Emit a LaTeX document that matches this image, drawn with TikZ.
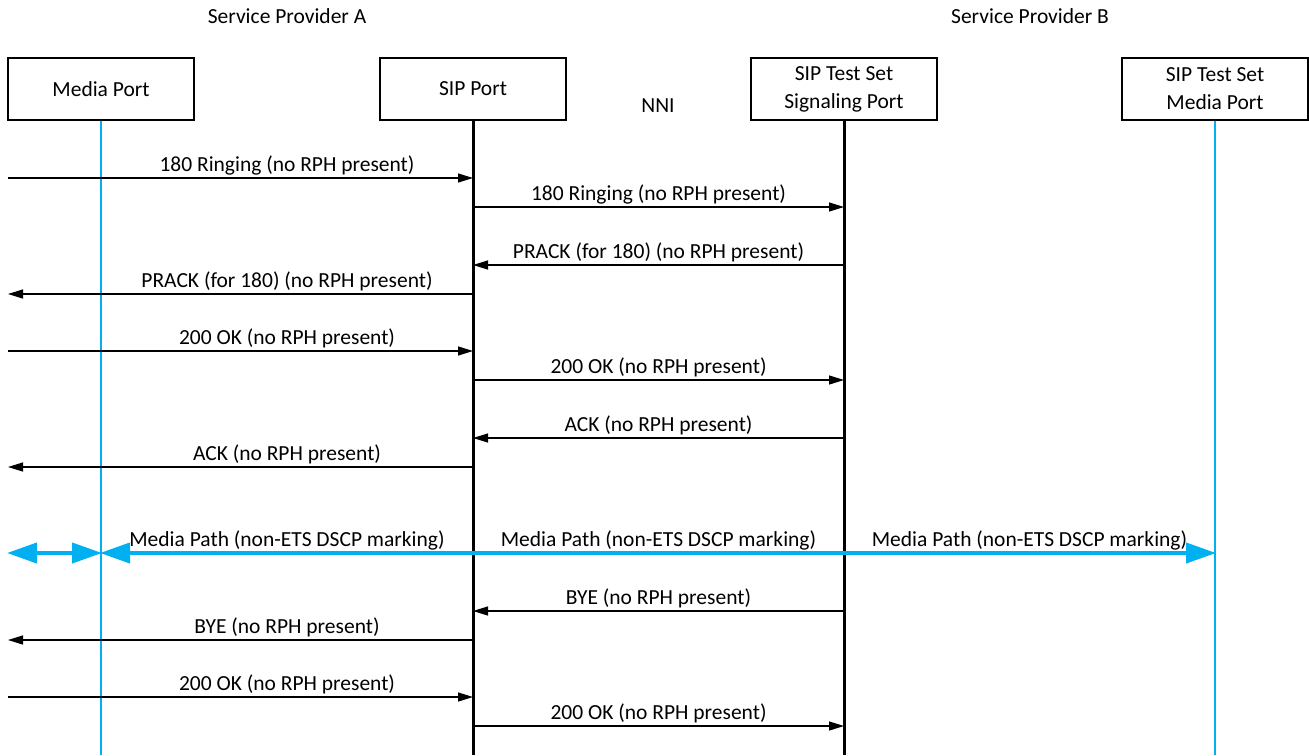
\documentclass[tikz,border=0pt]{standalone}
\usepackage{fontspec}
\setmainfont{Carlito}
\usetikzlibrary{arrows.meta,calc}
\definecolor{media}{RGB}{0,176,240}
\tikzset{
  entity/.style={draw,line width=1.3pt,minimum width=186pt,minimum height=62pt,inner sep=0pt,align=center,font=\fontsize{21.5}{28}\selectfont},
  sigline/.style={line width=3pt},
  medline/.style={line width=2.6pt,media},
  msg/.style={line width=1.3pt,-{Triangle[length=15pt,width=9pt]}},
  lbl/.style={anchor=base,inner sep=0pt,font=\fontsize{21.5}{24}\selectfont,yshift=7pt},
  mpath/.style={line width=4pt,media,{Triangle[length=30pt,width=20pt]}-{Triangle[length=30pt,width=20pt]},shorten <=-1pt,shorten >=-1pt},
  hdr/.style={inner sep=0pt,font=\fontsize{21.5}{24}\selectfont}
}
\begin{document}
\begin{tikzpicture}[x=1pt,y=-1pt]
\useasboundingbox (0,0) rectangle (1309,755);
% column headers
\node[hdr] (spa) at (287,16) {Service Provider A};
\node[hdr] (spb) at (1030,16) {Service Provider B};
\node[hdr] (nni) at (658,106) {NNI};
% participants
\node[entity] (mp)  at (101,89)  {Media Port};
\node[entity] (sip) at (473,89)  {SIP Port};
\node[entity] (tss) at (844,89)  {SIP Test Set\\Signaling Port};
\node[entity] (tsm) at (1215,89) {SIP Test Set\\Media Port};
% lifeline ends
\coordinate (bot) at (0,755);
\draw[medline] (mp.south) -- (mp.south |- bot);
\draw[sigline] (sip.south) -- (sip.south |- bot);
\draw[sigline] (tss.south) -- (tss.south |- bot);
\draw[medline] (tsm.south) -- (tsm.south |- bot);
% left edge of the picture
\coordinate (edge) at (8,0);
% signaling exchange (left-side labels are centred between Media Port and SIP Port)
\coordinate (r1) at (0,178);
\draw[msg] (edge |- r1) -- (sip |- r1);
\node[lbl] (l1) at ($(mp |- r1)!0.5!(sip |- r1)$) {180 Ringing (no RPH present)};
\coordinate (r2) at (0,207);
\draw[msg] (sip |- r2) -- (tss |- r2) node[lbl,midway] (l2) {180 Ringing (no RPH present)};
\coordinate (r3) at (0,265);
\draw[msg] (tss |- r3) -- (sip |- r3) node[lbl,midway] (l3) {PRACK (for 180) (no RPH present)};
\coordinate (r4) at (0,294);
\draw[msg] (sip |- r4) -- (edge |- r4);
\node[lbl] (l4) at ($(mp |- r4)!0.5!(sip |- r4)$) {PRACK (for 180) (no RPH present)};
\coordinate (r5) at (0,351);
\draw[msg] (edge |- r5) -- (sip |- r5);
\node[lbl] (l5) at ($(mp |- r5)!0.5!(sip |- r5)$) {200 OK (no RPH present)};
\coordinate (r6) at (0,380);
\draw[msg] (sip |- r6) -- (tss |- r6) node[lbl,midway] (l6) {200 OK (no RPH present)};
\coordinate (r7) at (0,438);
\draw[msg] (tss |- r7) -- (sip |- r7) node[lbl,midway] (l7) {ACK (no RPH present)};
\coordinate (r8) at (0,467);
\draw[msg] (sip |- r8) -- (edge |- r8);
\node[lbl] (l8) at ($(mp |- r8)!0.5!(sip |- r8)$) {ACK (no RPH present)};
% media path
\coordinate (m) at (0,553);
\draw[mpath] (edge |- m) -- (mp |- m);
\draw[mpath] (mp |- m) -- (tsm |- m);
\node[lbl] (mpl1) at ($(mp |- m)!0.5!(sip |- m)$) {Media Path (non-ETS DSCP marking)};
\node[lbl] (mpl2) at ($(sip |- m)!0.5!(tss |- m)$) {Media Path (non-ETS DSCP marking)};
\node[lbl] (mpl3) at ($(tss |- m)!0.5!(tsm |- m)$) {Media Path (non-ETS DSCP marking)};
% teardown
\coordinate (r9) at (0,611);
\draw[msg] (tss |- r9) -- (sip |- r9) node[lbl,midway] (l9) {BYE (no RPH present)};
\coordinate (r10) at (0,640);
\draw[msg] (sip |- r10) -- (edge |- r10);
\node[lbl] (l10) at ($(mp |- r10)!0.5!(sip |- r10)$) {BYE (no RPH present)};
\coordinate (r11) at (0,697);
\draw[msg] (edge |- r11) -- (sip |- r11);
\node[lbl] (l11) at ($(mp |- r11)!0.5!(sip |- r11)$) {200 OK (no RPH present)};
\coordinate (r12) at (0,726);
\draw[msg] (sip |- r12) -- (tss |- r12) node[lbl,midway] (l12) {200 OK (no RPH present)};
\end{tikzpicture}
\end{document}
